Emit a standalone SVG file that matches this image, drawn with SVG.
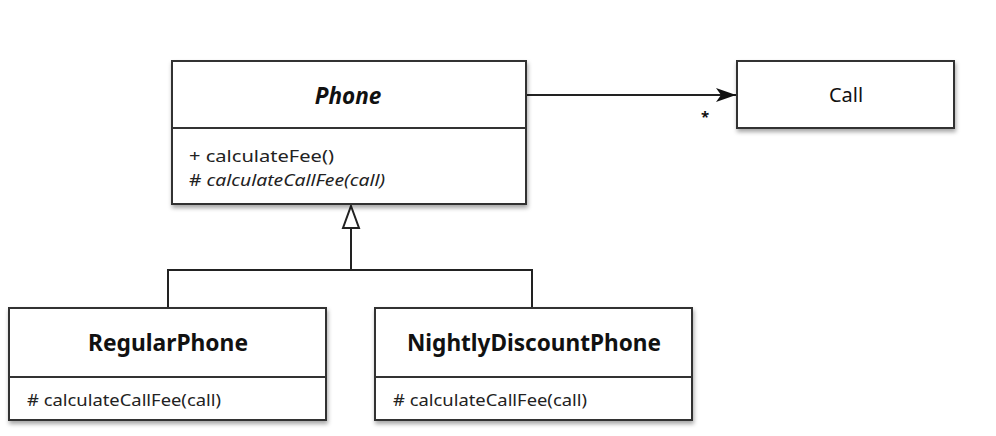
<svg xmlns="http://www.w3.org/2000/svg" width="996" height="436" viewBox="0 0 996 436">
<defs>
<filter id="sh" x="-5%" y="-5%" width="115%" height="125%">
<feDropShadow dx="1" dy="3" stdDeviation="2" flood-color="#000" flood-opacity="0.35"/>
</filter>
<marker id="arr" viewBox="0 0 20 14" refX="20" refY="7" markerWidth="20" markerHeight="14" markerUnits="userSpaceOnUse" orient="auto">
<path d="M0,0 L20,7 L0,14 L5,7 Z" fill="#111"/>
</marker>
</defs>
<style>
.box{fill:#fff;stroke:#333;stroke-width:2}
.div{stroke:#333;stroke-width:2}
.t{font-family:"Noto Sans","Liberation Sans",sans-serif;fill:#111;text-anchor:middle}
.title{font-size:22.5px;font-weight:bold}
.m{font-family:"Noto Sans","Liberation Sans",sans-serif;fill:#222;font-size:16px}
.ln{stroke:#222;stroke-width:2;fill:none}
</style>
<g id="connectors">
<line class="ln" x1="527" y1="95" x2="736" y2="95" marker-end="url(#arr)"/>
<text class="t" x="705" y="122" style="font-size:15px;font-weight:bold">*</text>
<path class="ln" d="M351,228 V270 M168,308 V270 H532 V308"/>
<path d="M351,206 L359,228 L343,228 Z" fill="#fff" stroke="#222" stroke-width="2"/>
</g>
<g id="Phone">
<rect class="box" x="172" y="61" width="354" height="143" filter="url(#sh)"/>
<line class="div" x1="172" y1="128" x2="526" y2="128"/>
<text class="t title" x="348" y="104" font-style="italic">Phone</text>
<text class="m" x="189" y="162" textLength="145" lengthAdjust="spacingAndGlyphs">+ calculateFee()</text>
<text class="m" x="189" y="186" textLength="196" lengthAdjust="spacingAndGlyphs"># <tspan font-style="italic">calculateCallFee(call)</tspan></text>
</g>
<g id="Call">
<rect class="box" x="737" y="61" width="217" height="67" filter="url(#sh)"/>
<text class="t" x="846" y="102" style="font-size:20px">Call</text>
</g>
<g id="RegularPhone">
<rect class="box" x="9" y="308" width="317" height="112" filter="url(#sh)"/>
<line class="div" x1="9" y1="377" x2="326" y2="377"/>
<text class="t title" x="168" y="351" textLength="160" lengthAdjust="spacingAndGlyphs">RegularPhone</text>
<text class="m" x="27" y="406" textLength="194" lengthAdjust="spacingAndGlyphs"># calculateCallFee(call)</text>
</g>
<g id="NightlyDiscountPhone">
<rect class="box" x="375" y="308" width="317" height="112" filter="url(#sh)"/>
<line class="div" x1="375" y1="377" x2="692" y2="377"/>
<text class="t title" x="534" y="351" textLength="254" lengthAdjust="spacingAndGlyphs">NightlyDiscountPhone</text>
<text class="m" x="393" y="406" textLength="194" lengthAdjust="spacingAndGlyphs"># calculateCallFee(call)</text>
</g>
</svg>
